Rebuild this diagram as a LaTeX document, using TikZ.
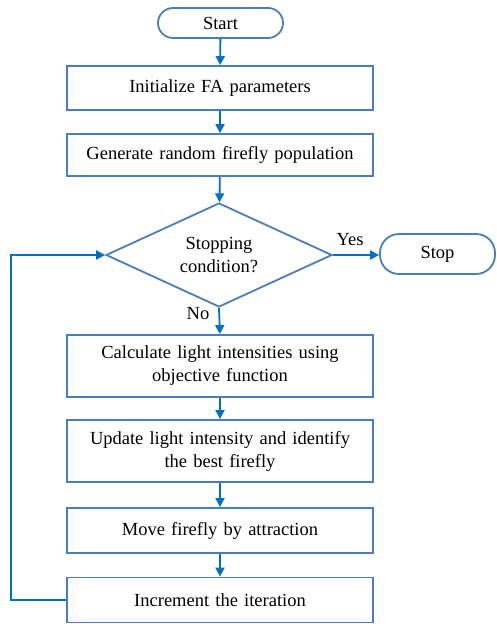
\documentclass[tikz,border=0pt]{standalone}
\usepackage{fontspec}
\setmainfont{Liberation Serif}
\usetikzlibrary{shapes.geometric,arrows.meta}
\definecolor{boxc}{HTML}{4A7EBB}
\definecolor{arrc}{HTML}{0070C0}
\tikzset{
  every node/.style={font=\fontsize{18.5}{23}\selectfont},
  procbox/.style={draw=boxc,line width=1.8pt,rectangle,minimum width=306pt,inner sep=0pt,align=center,text width=300pt},
  term/.style={draw=boxc,line width=1.8pt,rectangle,rounded corners=15pt,inner sep=0pt},
  decision/.style={draw=boxc,line width=1.8pt,diamond,aspect=2.2,minimum width=226pt,minimum height=104pt,inner sep=0pt,align=center},
  flow/.style={draw=arrc,line width=1.8pt,-{Triangle[length=9pt,width=9pt]}},
  lbl/.style={inner sep=0pt}
}
\begin{document}
\begin{tikzpicture}[x=1pt,y=-1pt]
\useasboundingbox (0,0) rectangle (497,624);
\node[term,minimum width=125pt,minimum height=30pt] (start) at (220.5,23) {Start};
\node[procbox,minimum height=44pt] (init) at (220,88) {Initialize FA parameters};
\node[procbox,minimum height=42pt] (gen) at (220,155) {Generate random firefly population};
\node[decision] (dec) at (219,255) {Stopping\\condition?};
\node[term,rounded corners=19pt,minimum width=115pt,minimum height=40pt] (stop) at (437.5,254) {Stop};
\node[procbox,minimum height=62pt] (calc) at (220,366) {Calculate light intensities using\\objective function};
\node[procbox,minimum height=62pt] (upd) at (220,451) {Update light intensity and identify\\the best firefly};
\node[procbox,minimum height=45pt] (move) at (220,530.5) {Move firefly by attraction};
\node[procbox,minimum height=45pt] (inc) at (220,600) {Increment the iteration};
\node[lbl] (yes) at (350,240) {Yes};
\node[lbl] (no) at (198,314) {No};
\coordinate (loopc) at (11,600);
\draw[flow] (start) -- (init);
\draw[flow] (init) -- (gen);
\draw[flow] (gen) -- (dec);
\draw[flow] (dec.east) -- (dec.east -| stop.west);
\draw[flow] (dec.south) -- (calc.north);
\draw[flow] (calc) -- (upd);
\draw[flow] (upd) -- (move);
\draw[flow] (move) -- (inc);
\draw[flow] (inc.west) -- (loopc) |- (dec.west);
\end{tikzpicture}
\end{document}
